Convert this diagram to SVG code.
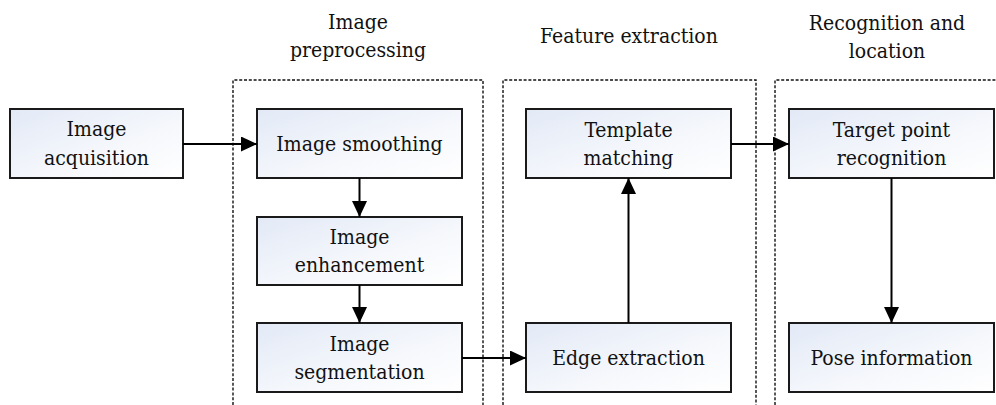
<svg xmlns="http://www.w3.org/2000/svg" width="996" height="405" viewBox="0 0 996 405">
  <defs>
    <linearGradient id="boxFill" x1="0" y1="0" x2="1" y2="1">
      <stop offset="0" stop-color="#e2e9f6"/>
      <stop offset="0.6" stop-color="#f6f8fc"/>
      <stop offset="1" stop-color="#ffffff"/>
    </linearGradient>
    <marker id="arrow" markerWidth="16" markerHeight="15" refX="16" refY="7.5" orient="auto" markerUnits="userSpaceOnUse">
      <path d="M0,0 L16,7.5 L0,15 Z" fill="#000"/>
    </marker>
  </defs>
  <style>
    .box { fill: url(#boxFill); stroke: #1a1a1a; stroke-width: 2; }
    .txt { font-family: "DejaVu Serif Condensed", "DejaVu Serif", serif; font-stretch: condensed; font-size: 21px; fill: #111; text-anchor: middle; }
    .stage { fill: none; stroke: #111; stroke-width: 1.4; stroke-dasharray: 3 1.8; }
    .conn { fill: none; stroke: #000; stroke-width: 2; marker-end: url(#arrow); }
  </style>
  <rect width="996" height="405" fill="#fff"/>

  <!-- stage frames and headings -->
  <g id="stage-preprocessing">
    <path class="stage" d="M233,405 V80 H483 V405"/>
    <text class="txt" x="358" y="28.5">Image</text>
    <text class="txt" x="358" y="56.5">preprocessing</text>
  </g>
  <g id="stage-feature">
    <path class="stage" d="M503,405 V80 H756 V405"/>
    <text class="txt" x="629" y="43">Feature extraction</text>
  </g>
  <g id="stage-recognition">
    <path class="stage" d="M775,405 V80 H996"/>
    <text class="txt" x="887" y="30">Recognition and</text>
    <text class="txt" x="887" y="58">location</text>
  </g>

  <!-- nodes -->
  <g id="image-acquisition">
    <rect class="box" x="10" y="109" width="173" height="69"/>
    <text class="txt" x="96.5" y="136">Image</text>
    <text class="txt" x="96.5" y="165">acquisition</text>
  </g>
  <g id="image-smoothing">
    <rect class="box" x="257" y="109" width="205" height="69"/>
    <text class="txt" x="359.5" y="150.5">Image smoothing</text>
  </g>
  <g id="image-enhancement">
    <rect class="box" x="257" y="217" width="205" height="68"/>
    <text class="txt" x="359.5" y="244">Image</text>
    <text class="txt" x="359.5" y="272">enhancement</text>
  </g>
  <g id="image-segmentation">
    <rect class="box" x="257" y="323" width="205" height="69"/>
    <text class="txt" x="359.5" y="350.5">Image</text>
    <text class="txt" x="359.5" y="378.5">segmentation</text>
  </g>
  <g id="template-matching">
    <rect class="box" x="526" y="109" width="205" height="69"/>
    <text class="txt" x="628.5" y="136.5">Template</text>
    <text class="txt" x="628.5" y="164.5">matching</text>
  </g>
  <g id="edge-extraction">
    <rect class="box" x="526" y="323" width="205" height="69"/>
    <text class="txt" x="628.5" y="364.5">Edge extraction</text>
  </g>
  <g id="target-point-recognition">
    <rect class="box" x="789" y="109" width="205" height="69"/>
    <text class="txt" x="891.5" y="136.5">Target point</text>
    <text class="txt" x="891.5" y="164.5">recognition</text>
  </g>
  <g id="pose-information">
    <rect class="box" x="789" y="323" width="205" height="69"/>
    <text class="txt" x="891.5" y="364.5">Pose information</text>
  </g>

  <!-- connectors -->
  <g id="connectors">
    <path class="conn" d="M183,144 H257"/>
    <path class="conn" d="M359.5,178 V217"/>
    <path class="conn" d="M359.5,285 V323"/>
    <path class="conn" d="M462,358 H526"/>
    <path class="conn" d="M628.5,323 V178"/>
    <path class="conn" d="M731,144 H789"/>
    <path class="conn" d="M891.5,178 V323"/>
  </g>
</svg>
